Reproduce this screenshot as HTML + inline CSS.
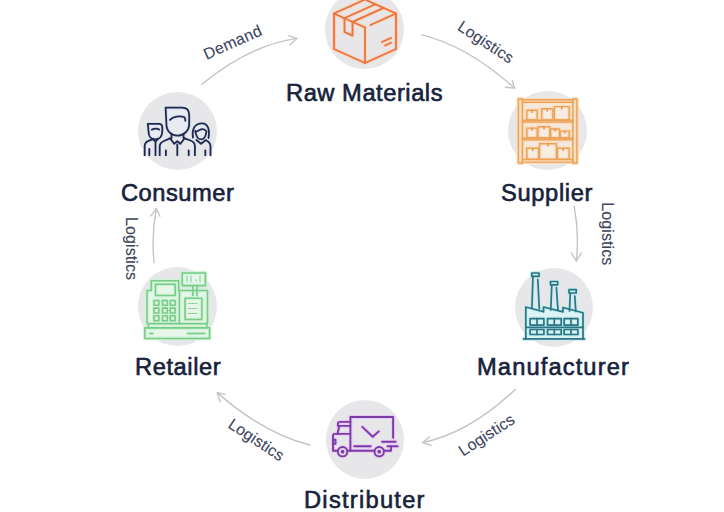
<!DOCTYPE html>
<html><head><meta charset="utf-8">
<style>
html,body{margin:0;padding:0;background:#fff;}
body{width:724px;height:512px;position:relative;overflow:hidden;font-family:"Liberation Sans",sans-serif;}
.c{position:absolute;border-radius:50%;background:#e7e7e9;}
.lbl{position:absolute;white-space:nowrap;font-size:23px;color:#17223b;-webkit-text-stroke:0.6px #17223b;line-height:1;transform:scaleX(1.03);transform-origin:0 0;}
svg.full{position:absolute;left:0;top:0;}
.ic{position:absolute;}
</style></head><body>

<div class="c" style="left:325.3px;top:-9.8px;width:78.6px;height:78.6px"></div>
<div class="c" style="left:508.2px;top:91.3px;width:79px;height:79px"></div>
<div class="c" style="left:515.2px;top:268.3px;width:78.2px;height:79px"></div>
<div class="c" style="left:325.9px;top:400.3px;width:78.5px;height:79px"></div>
<div class="c" style="left:138.2px;top:267.4px;width:79px;height:78.4px"></div>
<div class="c" style="left:137.8px;top:91.5px;width:79.2px;height:78.5px"></div>

<div class="lbl" style="left:286px;top:82.2px;letter-spacing:0.52px">Raw Materials</div>
<div class="lbl" style="left:501px;top:182.2px;letter-spacing:0.62px">Supplier</div>
<div class="lbl" style="left:477.2px;top:356.2px;letter-spacing:1.08px">Manufacturer</div>
<div class="lbl" style="left:304.2px;top:488.7px;letter-spacing:1.22px">Distributer</div>
<div class="lbl" style="left:134.7px;top:356.4px;letter-spacing:0.55px">Retailer</div>
<div class="lbl" style="left:121px;top:182.2px;letter-spacing:0.5px">Consumer</div>

<svg class="full" width="724" height="512" viewBox="0 0 724 512" fill="none" stroke="#c4c4c4" stroke-width="1.4" stroke-linecap="round" stroke-linejoin="round">
  <path d="M201.8 84.3 Q249.3 45.25 296.8 38.4"/>
  <path d="M288.5 35.6 L296.8 38.4 L290 44.8"/>
  <path d="M421.8 34.9 Q468.25 46.3 514.5 88.1"/>
  <path d="M505.4 87.3 L514.5 88.1 L512.3 80.5"/>
  <path d="M574.1 206 Q579.4 233.5 576.3 261"/>
  <path d="M571.4 252.9 L576.3 261 L581.4 252.9"/>
  <path d="M515.3 389.4 Q469.05 433.2 422.6 442.6"/>
  <path d="M429.4 437 L422.6 442.6 L431 445.3"/>
  <path d="M309.9 445 Q263.45 433.2 217.2 392.6"/>
  <path d="M224.8 394.4 L217.2 392.6 L220.2 401.7"/>
  <path d="M154.1 262.5 Q151.2 235.45 156.3 208.6"/>
  <path d="M150.8 215.9 L156.3 208.6 L159.9 216.3"/>
</svg>

<svg class="full" width="724" height="512" viewBox="0 0 724 512" style="font-family:'Liberation Sans';font-size:16px;fill:#3d465e;stroke:#3d465e;stroke-width:0.12px">
  <text transform="translate(206.4 59.9) rotate(-24)" letter-spacing="0.3">Demand</text>
  <text transform="translate(456.5 29.2) rotate(33.5)" letter-spacing="0.1">Logistics</text>
  <text transform="translate(602.15 202.25) rotate(90)" letter-spacing="0.1">Logistics</text>
  <text transform="translate(463.1 456.7) rotate(-33)" letter-spacing="0.1">Logistics</text>
  <text transform="translate(227.1 426.9) rotate(33.5)" letter-spacing="0.1">Logistics</text>
  <text transform="translate(126.05 217.05) rotate(90)" letter-spacing="0.1">Logistics</text>
</svg>


<svg class="full" width="724" height="512" viewBox="0 0 724 512" fill="none" stroke-linejoin="round" stroke-linecap="round">
 <defs>
 <g id="box">
  <path d="M334 13.5 L365 -0.5 L396 13.5 V49 L365 63 L334 49 Z"/>
  <path d="M365 27.5 V63"/>
  <path d="M334 13.5 L365 27.5"/>
  <path d="M370.5 25 L396 13.5"/>
  <path d="M344.3 18.2 L375.3 4.2"/>
  <path d="M352.6 21.9 L383.6 7.9"/>
  <path d="M344.5 18.3 V32 L352.5 35.6 V22"/>
  <path d="M382 42 L391 38 M385 45.5 L391 42.8"/>
 </g>
 <g id="shelf">
  <rect x="518.4" y="99" width="4" height="64"/>
  <rect x="572.9" y="99" width="4" height="64"/>
  <rect x="522.4" y="99.8" width="50.5" height="2.4"/>
  <rect x="522.4" y="120.2" width="50.5" height="1.8"/>
  <rect x="522.4" y="138" width="50.5" height="1.8"/>
  <rect x="522.4" y="159.5" width="50.5" height="2.6"/>
  <rect x="526.8" y="110.3" width="10.4" height="9.7"/>
  <rect x="541.7" y="108.8" width="11.1" height="11.2"/>
  <rect x="554.3" y="106.6" width="14.9" height="13.4"/>
  <rect x="526.8" y="128.1" width="10.4" height="9.7"/>
  <rect x="538" y="126.7" width="11.9" height="11.1"/>
  <rect x="550.6" y="128.9" width="8.9" height="8.9"/>
  <rect x="560.2" y="131.1" width="9" height="6.7"/>
  <rect x="526.8" y="148.2" width="11.9" height="11.1"/>
  <rect x="539.5" y="143.7" width="17" height="15.6"/>
  <rect x="557.3" y="148.2" width="11.9" height="11.1"/>
 </g>
 <g id="shelfm">
  <path d="M532 110.3 V112.5 M547.2 108.8 V111 M561.7 106.6 V109 M532 128.1 V130.3 M544 126.7 V129 M555 128.9 V131 M564.7 131.1 V133 M532.7 148.2 V150.5 M548 143.7 V146 M563.2 148.2 V150.5"/>
 </g>
 <g id="factory">
  <path d="M523.6 338.9 H584.4"/>
  <path d="M525.8 338.9 V307 L543.5 311.8 V307 L563 311.8 V307.5 L583 312.8 V338.9"/>
  <path d="M525.8 327.3 H583"/>
  <rect x="530.1" y="318.6" width="13.8" height="6.5"/><path d="M537 318.6 V325.1"/>
  <rect x="547.5" y="318.6" width="13.7" height="6.5"/><path d="M554.3 318.6 V325.1"/>
  <rect x="564.1" y="318.6" width="13.8" height="6.5"/><path d="M571 318.6 V325.1"/>
  <rect x="530.1" y="329.5" width="13.8" height="5"/><path d="M537 329.5 V334.5"/>
  <rect x="547.5" y="329.5" width="13.7" height="5"/><path d="M554.3 329.5 V334.5"/>
  <rect x="564.1" y="329.5" width="13.8" height="5"/><path d="M571 329.5 V334.5"/>
  <rect x="531.8" y="273" width="7.2" height="3.4"/><path d="M533 276.4 L531.9 308 M537.8 279.5 L539.3 309"/>
  <rect x="550.5" y="281.5" width="7.2" height="3.3"/><path d="M551.8 284.8 L550.8 310 M556.4 287.5 L558 310.5"/>
  <rect x="569" y="289.7" width="7.2" height="3.3"/><path d="M570.3 293 L569.5 311 M574.8 296 L575.8 311.5"/>
 </g>
 <g id="truck">
  <path d="M350.4 450.8 V417 H393.1 V437.8"/>
  <path d="M350.4 421.9 H340 Q337.9 421.9 337.9 424 V425.9 H350.4"/>
  <path d="M339.4 425.9 L337.4 433.9 H350.4"/>
  <path d="M337.4 433.9 H335 Q333 433.9 333 436 V450.8 H337.5"/>
  <path d="M333 439.8 H335.5 V443.8 H333"/>
  <circle cx="342.6" cy="451.7" r="4.7"/>
  <circle cx="379.2" cy="451.7" r="4.7"/>
  <path d="M347.5 450.8 H374.3 M384.1 450.8 H391 V446.3"/>
  <path d="M354.3 446.3 H370.7"/>
  <path d="M382.2 441.8 H395.6 M387.6 446.3 H397.6"/>
  <path d="M362.3 426.9 L372.7 436.8 L378.7 431.4"/>
 </g>
 <g id="register">
  <rect x="144.9" y="327.8" width="64.7" height="10.6"/>
  <path d="M150 333.4 H152.7 M187.8 333.4 H204.7"/>
  <rect x="148.4" y="323.6" width="58.4" height="4.2"/>
  <path d="M147 323.6 V290.5 H151.3 V280.7 H178.7 V290.5 H207.5 V323.6"/>
  <rect x="155.5" y="284.2" width="19.7" height="11.2"/>
  <rect x="154" y="300.4" width="4.9" height="4.9"/><rect x="162.5" y="300.4" width="4.9" height="4.9"/><rect x="170.3" y="300.4" width="4.9" height="4.9"/>
  <rect x="154" y="308.1" width="4.9" height="4.9"/><rect x="162.5" y="308.1" width="4.9" height="4.9"/><rect x="170.3" y="308.1" width="4.9" height="4.9"/>
  <rect x="154" y="315.8" width="4.9" height="4.9"/><rect x="162.5" y="315.8" width="4.9" height="4.9"/><rect x="170.3" y="315.8" width="4.9" height="4.9"/>
  <path d="M179.4 290.5 V323.6"/>
  <rect x="185" y="298.3" width="16.9" height="21.1"/>
  <rect x="182.2" y="272.9" width="23.2" height="12.7"/>
  <path d="M192.8 285.6 V295.4 M197 285.6 V295.4"/>
 </g>
 <g id="people">
  <path d="M165.6 107.7 H182 C186.5 107.7 189.2 110.5 189.2 115 V124 C189.2 130.5 184 135.6 177.3 135.6 C171 135.6 166.4 131 166.4 124 Z"/>
  <path d="M170 119.8 C173 116.5 180 115.5 184 117 Q185.5 118 185.3 120.7"/>
  <path d="M171.5 134 V138.3 M183.5 134 V138.3"/>
  <path d="M170 138.2 L174.2 143.8 L177.3 141.2 L180.4 143.8 L184.6 138.2"/>
  <path d="M159.7 155.2 V146.5 C159.7 143.5 161.5 142 164 141 L170 138.4 M184.6 138.4 L190.5 140.5 C193 141.5 194.9 143 194.9 146 V155.2"/>
  <path d="M165.9 150.5 V155.2 M188.7 150.5 V155.2 M177.3 144.3 V155.2"/>
  <path d="M147.8 123.8 H159.5 Q162.3 124 162.3 127.5 V131 C162.3 136 159.5 139.4 155.2 139.4 C151.2 139.4 148.6 136.5 148.6 132 Z"/>
  <path d="M151.9 129.6 Q156 127.6 159.2 129.6"/>
  <path d="M144.7 155.2 V146 C144.7 143 146.5 141.5 149 140.6 L152.8 139.3 M153.3 139.3 L155.5 142 L157.7 139.3 M155.5 142 V155.2"/>
  <path d="M149.3 149 V155.2"/>
  <path d="M193 137.5 C192.3 133 192.8 129 194.8 126.5 C196.5 124.3 199 123.3 202 123.3 C205 123.3 207 125 208 127.5 C209 130 209.2 134 208.5 138"/>
  <path d="M195.3 131 C196 136 198.2 139.4 201.1 139.4 C204 139.4 205.8 136.5 206.5 131.5"/>
  <path d="M195.5 132 Q199 130.5 201.2 129.3 Q204 128.6 205.6 130.5"/>
  <path d="M196.5 140 L201 143.8 L206 140 M206.3 140.5 C208.5 141.5 210.5 143 210.5 146.5 V155.2"/>
  <path d="M205.3 150.5 V155.2"/>
 </g>
 </defs>

 <use href="#box" stroke="#fbd3bd" stroke-width="3.8"/>
 <use href="#box" stroke="#e8743d" stroke-width="1.8"/>

 <rect x="520" y="99" width="55" height="64" fill="#f5e9df"/>
 <use href="#shelf" stroke="#fbdcbc" stroke-width="3.8" fill="#f7ede3"/>
 <use href="#shelf" stroke="#eba35a" stroke-width="1.45"/>
 <use href="#shelfm" stroke="#e59a55" stroke-width="1.6"/>

 <use href="#factory" stroke="#c4ebf0" stroke-width="3.6" fill="#ddf3f6"/>
 <use href="#factory" stroke="#2b7683" stroke-width="1.7"/>

 <use href="#truck" stroke="#e6cbf2" stroke-width="4.2"/>
 <use href="#truck" stroke="#7b3ca6" stroke-width="1.9"/>
 <circle cx="342.6" cy="451.7" r="1.9" fill="#7b3ca6"/>
 <circle cx="379.2" cy="451.7" r="1.9" fill="#7b3ca6"/>

 <use href="#register" stroke="#cdf2d5" stroke-width="3.8" fill="#e6f6e9"/>
 <use href="#register" stroke="#7acb8a" stroke-width="1.55"/>
 <g stroke="#7acb8a" stroke-width="0.9">
  <path d="M188.5 303.5 H198 M188.5 308.5 H198 M188.5 313.5 H198" stroke-dasharray="2 1.2"/>
  <path d="M187 276 V282 M191 276 V282 M200 276 V282 M196 280 V281"/>
 </g>

 <use href="#people" stroke="#d9dded" stroke-width="3.4" fill="#e9ebf2"/>
 <use href="#people" stroke="#1f2b4d" stroke-width="1.8"/>
</svg>

</body></html>
